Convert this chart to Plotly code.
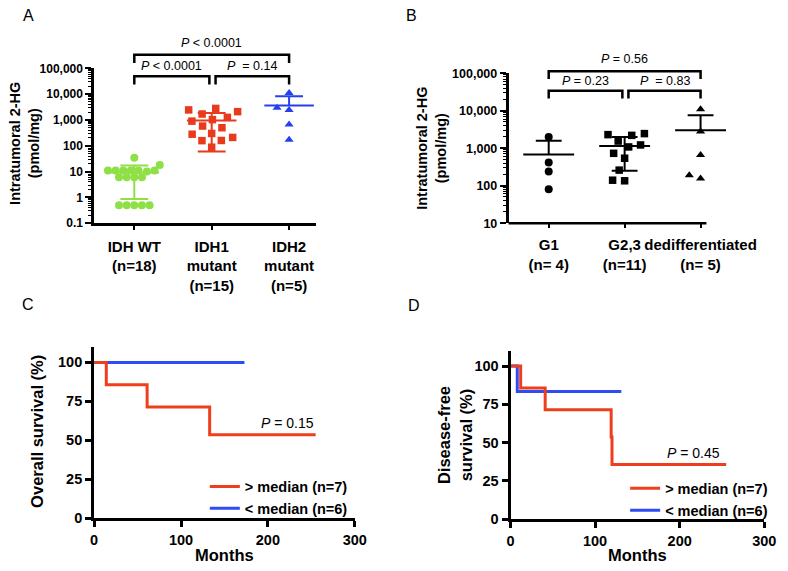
import math
import plotly.graph_objects as go

W, H = 788, 571
def PX(x):
    return x / W
def PY(y):
    return 1 - y / H

FONT = "Liberation Sans, Arial, sans-serif"

# ---------------- Panel A data ----------------
a_labels = ["IDH WT<br>(n=18)", "IDH1<br>mutant<br>(n=15)", "IDH2<br>mutant<br>(n=5)"]
a_idh_wt = [34, 11, 11, 11, 11, 11, 11, 18, 10, 6, 6, 6, 6, 0.5, 0.5, 0.5, 0.5, 0.5]
a_idh1 = [2800, 1260, 1700, 2450, 2100, 1030, 580, 900, 500, 280, 158, 300, 160, 210, 88]
a_idh2 = [11000, 2450, 3000, 660, 170]
a_mean = [9.2, 950, 3600]
a_sd_hi = [17, 1850, 8300]
a_sd_lo = [0.86, 60, None]
a_tickvals = [0.1, 1, 10, 100, 1000, 10000, 100000]
a_ticktext = ["0.1", "1", "10", "100", "1,000", "10,000", "100,000"]
a_tests = [(0, 2, "<i>P</i> &lt; 0.0001"), (0, 1, "<i>P</i> &lt; 0.0001"), (1, 2, "<i>P</i>  = 0.14")]

# ---------------- Panel B data ----------------
b_labels = ["G1<br>(n= 4)", "G2,3<br>(n=11)", "dedifferentiated<br>(n= 5)"]
b_g1 = [2000, 415, 240, 80]
b_g23 = [2200, 2300, 2450, 1550, 1220, 1080, 730, 540, 260, 135, 140]
b_dediff = [11000, 2800, 660, 155, 190]
b_mean = [680, 1150, 3000]
b_sd_hi = [1570, 2000, 7600]
b_sd_lo = [None, 250, None]
b_tickvals = [10, 100, 1000, 10000, 100000]
b_ticktext = ["10", "100", "1,000", "10,000", "100,000"]
b_tests = [(0, 2, "<i>P</i> = 0.56"), (0, 1, "<i>P</i> = 0.23"), (1, 2, "<i>P</i>  = 0.83")]

# ---------------- Panel C data (Kaplan-Meier) ----------------
c_hi_months = [0, 14, 61, 133, 255]
c_hi_surv = [100, 85.7, 71.4, 53.6, 53.6]
c_lo_months = [0, 173]
c_lo_surv = [100, 100]

# ---------------- Panel D data ----------------
d_hi_months = [0, 12, 41, 119, 120, 255]
d_hi_surv = [100, 85.7, 71.4, 53.6, 35.7, 35.7]
d_lo_months = [0, 8, 131]
d_lo_surv = [100, 83.3, 83.3]

km_names = ["&gt; median (n=7)", "&lt; median (n=6)"]

GREEN = "#8FE046"
RED = "#E83B1E"
BLUE = "#2440EE"
KM_RED = "#EF3E1D"
KM_BLUE = "#2D4CF6"


def swarm_offsets(values, px_per_decade, spacing, px_per_unit):
    ys = [math.log10(v) * px_per_decade for v in values]
    order = sorted(range(len(values)), key=lambda i: ys[i])
    placed = []
    offs = [0.0] * len(values)
    for i in order:
        y = ys[i]
        cands = [0.0]
        for (px, py) in placed:
            dy = y - py
            if abs(dy) < spacing:
                dx = math.sqrt(spacing ** 2 - dy ** 2)
                cands += [px + dx, px - dx]
        ok = [c for c in cands
              if all((c - px) ** 2 + (y - py) ** 2 >= spacing ** 2 - 1e-6 for px, py in placed)]
        best = min(ok, key=lambda c: (abs(c), c))
        placed.append((best, y))
        offs[i] = best / px_per_unit
    return offs


def summary_trace(c, mean, hi, lo, hw, cw, color, xa, ya):
    xs = [c - hw, c + hw, None, c - cw, c + cw, None]
    ys = [mean, mean, None, hi, hi, None]
    if lo is not None:
        xs += [c - cw, c + cw, None, c, c]
        ys += [lo, lo, None, lo, hi]
    else:
        xs += [c, c]
        ys += [mean, hi]
    return go.Scatter(x=xs, y=ys, mode="lines", line=dict(color=color, width=2),
                      xaxis=xa, yaxis=ya, showlegend=False, hoverinfo="skip")


fig = go.Figure()

# ---- Panel A traces ----
A_PPD = 159 / 6.0
A_PPU = 79.0
a_groups = [(a_idh_wt, "circle", GREEN, 8, 7.8),
            (a_idh1, "square", RED, 7.5, 12.0),
            (a_idh2, "triangle-up", BLUE, 8, 12.5)]
for gi, (vals, sym, col, sz, sp) in enumerate(a_groups):
    offs = swarm_offsets(vals, A_PPD, sp, A_PPU)
    fig.add_trace(go.Scatter(x=[gi + o for o in offs], y=vals, mode="markers",
                             marker=dict(symbol=sym, color=col, size=sz, line=dict(width=0)),
                             xaxis="x", yaxis="y", showlegend=False, cliponaxis=False))
    fig.add_trace(summary_trace(gi, a_mean[gi], a_sd_hi[gi], a_sd_lo[gi], 0.32, 0.18, col, "x", "y"))

# ---- Panel B traces ----
B_PPD = 154 / 4.0
B_PPU = 77.5
b_groups = [(b_g1, "circle", 8, 9.0),
            (b_g23, "square", 7.5, 12.3),
            (b_dediff, "triangle-up", 8, 12.0)]
for gi, (vals, sym, sz, sp) in enumerate(b_groups):
    offs = swarm_offsets(vals, B_PPD, sp, B_PPU)
    fig.add_trace(go.Scatter(x=[gi + o for o in offs], y=vals, mode="markers",
                             marker=dict(symbol=sym, color="black", size=sz, line=dict(width=0)),
                             xaxis="x2", yaxis="y2", showlegend=False, cliponaxis=False))
    fig.add_trace(summary_trace(gi, b_mean[gi], b_sd_hi[gi], b_sd_lo[gi], 0.335, 0.17, "black", "x2", "y2"))

# ---- Panel C traces ----
fig.add_trace(go.Scatter(x=c_lo_months, y=c_lo_surv, mode="lines", line=dict(color=KM_BLUE, width=3, shape="hv"),
                         name=km_names[1], xaxis="x3", yaxis="y3", legend="legend", legendrank=2))
fig.add_trace(go.Scatter(x=c_hi_months, y=c_hi_surv, mode="lines", line=dict(color=KM_RED, width=3, shape="hv"),
                         name=km_names[0], xaxis="x3", yaxis="y3", legend="legend", legendrank=1))
# ---- Panel D traces ----
fig.add_trace(go.Scatter(x=d_lo_months, y=d_lo_surv, mode="lines", line=dict(color=KM_BLUE, width=3, shape="hv"),
                         name=km_names[1], xaxis="x4", yaxis="y4", legend="legend2", legendrank=2))
fig.add_trace(go.Scatter(x=d_hi_months, y=d_hi_surv, mode="lines", line=dict(color=KM_RED, width=3, shape="hv"),
                         name=km_names[0], xaxis="x4", yaxis="y4", legend="legend2", legendrank=1))


def minor_log(lo_exp, hi_exp):
    return [k * 10 ** e for e in range(lo_exp, hi_exp) for k in range(2, 10)]


bold = dict(family=FONT, color="black", weight="bold")
axis_common = dict(showgrid=False, zeroline=False, linecolor="black", tickcolor="black")

fig.update_layout(
    width=W, height=H, margin=dict(l=0, r=0, t=0, b=0),
    paper_bgcolor="white", plot_bgcolor="white",
    font=dict(family=FONT, color="black"),
    xaxis=dict(domain=[PX(92), PX(318)], range=[-41 / 79, 185 / 79], anchor="y",
               tickvals=[0, 1, 2], ticktext=a_labels, tickfont=dict(size=15, **bold), tickangle=0,
               showline=True, linewidth=2.5, ticks="outside", ticklen=4, tickwidth=2,
               ticklabelstandoff=4, **axis_common),
    yaxis=dict(domain=[PY(222), PY(63)], type="log", range=[-1, 5], anchor="x",
               tickvals=a_tickvals, ticktext=a_ticktext, tickfont=dict(size=12, **bold),
               showline=True, linewidth=2.5, ticks="outside", ticklen=6, tickwidth=2,
               minor=dict(tickvals=minor_log(-1, 5), ticks="outside", ticklen=3, tickwidth=1.2,
                          tickcolor="black"),
               **axis_common),
    xaxis2=dict(domain=[PX(515), PX(760)], range=[-41 / 77.5, 204 / 77.5], anchor="y2",
                tickvals=[0, 1, 2], ticktext=b_labels, tickfont=dict(size=15, **bold), tickangle=0,
                showline=False, ticks="outside", ticklen=4, tickwidth=2,
                ticklabelstandoff=4, **axis_common),
    yaxis2=dict(domain=[PY(222), PY(68)], type="log", range=[1, 5], anchor="x2",
                tickvals=b_tickvals, ticktext=b_ticktext, tickfont=dict(size=12.5, **bold),
                showline=True, linewidth=2.5, ticks="outside", ticklen=6, tickwidth=2,
                minor=dict(tickvals=minor_log(1, 5), ticks="outside", ticklen=3, tickwidth=1.2,
                           tickcolor="black"),
                **axis_common),
    xaxis3=dict(domain=[PX(92), PX(358)], range=[0, 300], anchor="y3", tickvals=[0, 100, 200, 300],
                tickfont=dict(size=14.5, **bold), showline=True, linewidth=3,
                ticks="outside", ticklen=6, tickwidth=2.5, **axis_common),
    yaxis3=dict(domain=[PY(525), PY(349)], range=[0, 110], anchor="x3", tickvals=[0, 25, 50, 75, 100],
                tickfont=dict(size=14.5, **bold), showline=True, linewidth=3,
                ticks="outside", ticklen=6, tickwidth=2.5, **axis_common),
    xaxis4=dict(domain=[PX(517), PX(776)], range=[0, 300], anchor="y4", tickvals=[0, 100, 200, 300],
                tickfont=dict(size=14.5, **bold), showline=True, linewidth=3,
                ticks="outside", ticklen=6, tickwidth=2.5, **axis_common),
    yaxis4=dict(domain=[PY(526), PY(353)], range=[0, 110], anchor="x4", tickvals=[0, 25, 50, 75, 100],
                tickfont=dict(size=14.5, **bold), showline=True, linewidth=3,
                ticks="outside", ticklen=6, tickwidth=2.5, **axis_common),
    legend=dict(x=PX(205), y=PY(476), xanchor="left", yanchor="top", bgcolor="rgba(0,0,0,0)",
                font=dict(size=14.5, **bold), tracegroupgap=0, itemclick=False),
    legend2=dict(x=PX(634), y=PY(478), xanchor="left", yanchor="top", bgcolor="rgba(0,0,0,0)",
                 font=dict(size=14.5, **bold), tracegroupgap=0, itemclick=False),
)

shapes = []
annotations = []

# B baseline (the x axis line stops at the last category as in the reference)
shapes.append(dict(type="line", xref="paper", yref="paper", x0=PX(515), x1=PX(717), y0=PY(222), y1=PY(222),
                   line=dict(color="black", width=2.5)))


def brackets(xref, tests, top_y, low_y, drop, top_text_y, low_text_y, font_size):
    for (i, j, txt) in tests:
        if j - i > 1:
            y, xa, xb, ty = top_y, i, j, top_text_y
        else:
            y, ty = low_y, low_text_y
            xa = i + (0.05 if i > 0 else 0)
            xb = j - (0.03 if j < 2 else 0)
        path = "M %s,%s L %s,%s L %s,%s L %s,%s" % (xa, PY(y + drop), xa, PY(y), xb, PY(y), xb, PY(y + drop))
        shapes.append(dict(type="path", xref=xref, yref="paper", path=path,
                           line=dict(color="black", width=2.5)))
        annotations.append(dict(x=(xa + xb) / 2, y=PY(ty), xref=xref, yref="paper", text=txt,
                                showarrow=False, xanchor="center", yanchor="middle",
                                font=dict(size=font_size, family=FONT, color="black")))


brackets("x", a_tests, 49, 71, 8.5, 37, 61, 12.5)
brackets("x2", b_tests, 66, 86, 8, 53, 76, 12.5)

# panel letters
for letter, x, y in [("A", 25, 9), ("B", 416, 9), ("C", 24, 306), ("D", 418, 307)]:
    annotations.append(dict(x=PX(x), y=PY(y), xref="paper", yref="paper", text=letter, showarrow=False,
                            xanchor="center", yanchor="middle", font=dict(size=16, family=FONT, color="black")))

# axis titles
titles = [
    ("Intratumoral 2-HG<br>(pmol/mg)", 21, 140, -90, 14.5),
    ("Intratumoral 2-HG<br>(pmol/mg)", 436.5, 145, -90, 14.5),
    ("Overall survival (%)", 33, 436, -90, 16.5),
    ("Disease-free<br>survival (%)", 460, 440, -90, 16.5),
    ("Months", 225, 563, 0, 16.5),
    ("Months", 647, 563, 0, 16.5),
]
for txt, x, y, ang, sz in titles:
    annotations.append(dict(x=PX(x), y=PY(y), xref="paper", yref="paper", text=txt, showarrow=False,
                            textangle=ang, xanchor="center", yanchor="middle",
                            font=dict(size=sz, **bold)))

# P values in survival panels
annotations.append(dict(x=PX(289), y=PY(427), xref="paper", yref="paper", text="<i>P</i> = 0.15",
                        showarrow=False, xanchor="center", yanchor="middle",
                        font=dict(size=14, family=FONT, color="black")))
annotations.append(dict(x=PX(703.5), y=PY(458), xref="paper", yref="paper", text="<i>P</i> = 0.45",
                        showarrow=False, xanchor="center", yanchor="middle",
                        font=dict(size=14, family=FONT, color="black")))

fig.update_layout(shapes=shapes, annotations=annotations)
fig.write_html("out.html", config={"displayModeBar": False},
               post_script="document.body.style.margin='0';document.body.style.padding='0';")
